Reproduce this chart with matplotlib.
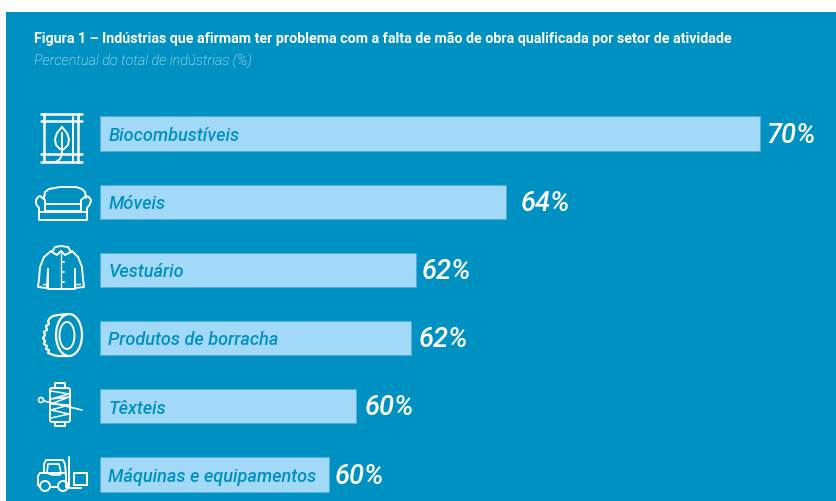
import matplotlib
matplotlib.use("Agg")
import matplotlib.pyplot as plt
from matplotlib.patches import Rectangle, Ellipse, Circle, FancyBboxPatch

# Data

categories = ["Biocombustíveis", "Móveis", "Vestuário", "Produtos de borracha", "Têxteis", "Máquinas e equipamentos"]
values = [70.0, 64.0, 61.87, 61.74, 60.44, 59.8]
value_labels = ["70%", "64%", "62%", "62%", "60%", "60%"]
title = "Figura 1 – Indústrias que afirmam ter problema com a falta de mão de obra qualificada por setor de atividade"
subtitle = "Percentual do total de indústrias (%)"

# Fields

base_value = 54.37
label_gaps = [7, 14, 5, 8, 9, 6]
panel_color = "#0091C3"
bar_color = "#A3D9F8"
edge_color = "#4FB0DC"
px_per_unit = 42.2

# Functions

def line(ax, xs, ys, lw=1.4):
    ax.plot(xs, ys, color="white", lw=lw, solid_capstyle="round", solid_joinstyle="round")

def box(ax, x, y, w, h, lw=1.4):
    ax.add_patch(Rectangle((x, y), w, h, fill=False, ec="white", lw=lw))

def round_box(ax, x, y, w, h, r=3, lw=1.4):
    ax.add_patch(FancyBboxPatch((x + r, y + r), w - 2 * r, h - 2 * r, boxstyle="round,pad=%f" % r, fill=False, ec="white", lw=lw))

def ring(ax, x, y, w, h, lw=1.4):
    ax.add_patch(Ellipse((x, y), w, h, fill=False, ec="white", lw=lw))

def draw_barrel(ax):
    line(ax, [41, 82], [115, 115], 1.8)
    line(ax, [41, 82], [122, 122], 1.8)
    line(ax, [41, 82], [155, 155], 1.8)
    line(ax, [41, 82], [163, 163], 1.8)
    line(ax, [44, 44], [115, 163], 1.8)
    line(ax, [78, 78], [115, 163], 1.8)
    line(ax, [73, 73], [118, 163], 1.4)
    line(ax, [62, 57, 55, 56, 60, 62, 64, 68, 69, 67, 62], [128, 134, 140, 146, 150, 151, 150, 146, 140, 134, 128])
    line(ax, [62, 62, 60, 56, 46], [134, 155, 160, 163, 163])

def draw_sofa(ax):
    line(ax, [44, 45, 49, 60, 76, 82, 85, 86], [199, 193, 190, 188, 188, 190, 193, 199])
    line(ax, [45, 45, 40, 38, 36, 36, 39, 39, 87, 87, 90, 91, 89, 86, 81, 81],
         [205, 201, 197, 198, 201, 205, 209, 221, 221, 209, 205, 201, 198, 197, 201, 205])
    line(ax, [45, 81, 81, 45, 45], [205, 205, 212, 212, 205])
    line(ax, [39, 87], [213, 213])

def draw_shirt(ax):
    line(ax, [51, 44, 40, 39, 38, 47, 48], [252, 258, 268, 280, 288, 289, 270])
    line(ax, [72, 78, 82, 83, 84, 75, 75], [252, 258, 268, 280, 288, 289, 270])
    line(ax, [48, 48, 75, 75], [270, 290, 290, 270])
    line(ax, [52, 55, 61, 68, 71], [253, 248, 247, 248, 253])
    line(ax, [52, 57, 61, 65, 71], [253, 256, 252, 256, 253])
    line(ax, [61, 61], [254, 290], 1.0)
    for y in [263, 273, 283]:
        line(ax, [63, 64], [y, y], 1.4)
    line(ax, [43, 47], [285, 285], 1.0)
    line(ax, [76, 80], [285, 285], 1.0)

def draw_tire(ax):
    # left side has the tread, so it is bumpy
    line(ax, [68, 58, 53, 50, 48, 49, 46, 47, 44, 45, 43, 45, 44, 47, 46, 49, 48, 51, 53, 58, 68],
         [315, 316, 317, 319, 322, 325, 327, 331, 333, 336, 339, 342, 345, 347, 350, 351, 354, 355, 356, 357, 357], 1.6)
    ring(ax, 69, 336, 26, 42, 1.6)
    ring(ax, 67, 336.5, 15, 27, 1.4)

def draw_spool(ax):
    box(ax, 55, 384, 10, 5)
    box(ax, 55, 423, 10, 4)
    round_box(ax, 50, 389, 20, 34, 2)
    line(ax, [51, 69, 51, 69, 51, 69, 51, 69, 51],
         [392, 395, 400, 398, 405, 406, 411, 415, 419], 1.1)
    line(ax, [44, 82], [402, 411], 1.2)
    ring(ax, 41, 401, 5, 5, 1.2)

def draw_forklift(ax):
    line(ax, [40, 38, 38, 40], [474, 477, 486, 488])
    line(ax, [50, 58], [488, 488])
    line(ax, [68, 66, 66, 40], [488, 488, 474, 474])
    line(ax, [44, 44, 46, 63, 65, 66], [474, 465, 461, 461, 465, 477])
    line(ax, [47, 48, 59, 61, 60, 52, 47], [474, 465, 465, 474, 476, 476, 474], 1.2)
    line(ax, [69.5, 69.5], [458, 489], 1.4)
    ax.add_patch(Circle((45, 487), 5, fill=False, ec="white", lw=1.4))
    ax.add_patch(Circle((63, 487), 5, fill=False, ec="white", lw=1.4))
    box(ax, 74, 474, 13, 12)
    line(ax, [70, 81], [489, 489])

# Main

fig = plt.figure(figsize=(8.37, 5.02), dpi=100, facecolor="white")

# pixel layer for the panel, the texts on top and the icons
back = fig.add_axes([0, 0, 1, 1])
back.set_xlim(0, 837)
back.set_ylim(502, 0)
back.axis("off")
back.add_patch(Rectangle((6, 13), 831, 489, color=panel_color, lw=0))
back.text(34, 38.5, title, color="white", fontsize=10.25, family="Roboto", fontweight="bold", va="center")
back.text(34, 61.5, subtitle, color="#F2FAFD", fontsize=10.45, family="Roboto", fontstyle="italic", fontweight="light", va="center")

draw_barrel(back)
draw_sofa(back)
draw_shirt(back)
draw_tire(back)
draw_spool(back)
draw_forklift(back)

ax = fig.add_axes([100 / 837, 0, 737 / 837, 402 / 502])
ax.patch.set_alpha(0)
ax.set_xlim(base_value, base_value + 737 / px_per_unit)
ax.set_ylim((502 - 134.5) / 68.2, (100 - 134.5) / 68.2)
ax.axis("off")

y_pos = list(range(len(categories)))
widths = [v - base_value for v in values]
ax.barh(y_pos, widths, left=base_value, height=0.5, color=bar_color, edgecolor=edge_color, linewidth=0.6)

for i in y_pos:
    ax.annotate(categories[i], (base_value, i), xytext=(6, -1), textcoords="offset points",
                color=panel_color, fontsize=13.1, family="Roboto", fontstyle="italic", fontweight="medium", va="center")
    ax.annotate(value_labels[i], (values[i], i), xytext=(label_gaps[i] * 0.72, -0.5), textcoords="offset points",
                color="white", fontsize=19.6, family="Roboto", fontstyle="italic", fontweight="medium", va="center")

fig.savefig("out.png", dpi=100, facecolor="white")
